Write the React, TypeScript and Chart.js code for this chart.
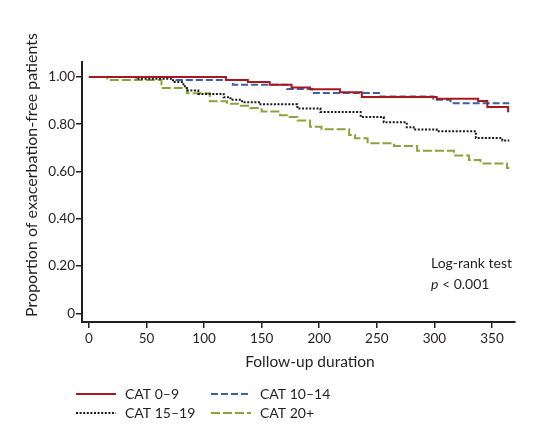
import React, { useEffect, useRef } from "react";
import { Chart, registerables } from "chart.js";

Chart.register(...registerables);

// ---- Data ----
const cat09Days = [0, 119, 138, 157, 176, 192, 218, 237, 302, 338, 346, 364, 365];
const cat09Surv = [1.0, 0.987, 0.978, 0.967, 0.955, 0.948, 0.935, 0.915, 0.908, 0.898, 0.873, 0.855, 0.855];

const cat1014Days = [0, 76, 125, 172, 194, 253, 299, 314, 365];
const cat1014Surv = [1.0, 0.987, 0.967, 0.949, 0.932, 0.917, 0.903, 0.889, 0.889];

const cat1519Days = [0, 41, 73, 82, 85, 95, 117, 123, 133, 149, 181, 201, 236, 256, 276, 282, 302, 336, 359, 365];
const cat1519Surv = [1.0, 0.992, 0.978, 0.96, 0.942, 0.928, 0.914, 0.903, 0.893, 0.884, 0.866, 0.851, 0.83, 0.808, 0.787, 0.777, 0.77, 0.741, 0.731, 0.731];

const cat20Days = [0, 16, 63, 85, 105, 120, 131, 140, 150, 166, 172, 181, 192, 202, 226, 231, 242, 265, 285, 317, 330, 340, 363, 365];
const cat20Surv = [1.0, 0.987, 0.953, 0.931, 0.897, 0.886, 0.878, 0.868, 0.854, 0.838, 0.83, 0.815, 0.789, 0.779, 0.754, 0.74, 0.719, 0.708, 0.687, 0.667, 0.648, 0.634, 0.615, 0.615];

const seriesLabels = ["CAT 0\u20139", "CAT 10\u201314", "CAT 15\u201319", "CAT 20+"];

const xTickValues = [0, 50, 100, 150, 200, 250, 300, 350];
const xTickLabels = ["0", "50", "100", "150", "200", "250", "300", "350"];
const yTickValues = [0, 0.2, 0.4, 0.6, 0.8, 1.0];
const yTickLabels = ["0", "0.20", "0.40", "0.60", "0.80", "1.00"];

const xTitle = "Follow-up duration";
const yTitle = "Proportion of exacerbation-free patients";
const noteLine1 = "Log-rank test";
const noteP = "p";
const noteRest = " < 0.001";

// ---- Styles ----
const FONT = "Lato, 'Open Sans', sans-serif";
const TEXT = "#231f20";
const COLORS = ["#a8181f", "#3d5fa3", "#1a1a1a", "#8aa33c"];
const DASHES: number[][] = [[], [7, 3], [2, 1.6], [9, 3]];

const toPoints = (days: number[], surv: number[]) =>
  days.map((d, i) => ({ x: d, y: surv[i] }));

const overlayPlugin = {
  id: "overlay",
  afterDraw(chart: any) {
    const ctx = chart.ctx as CanvasRenderingContext2D;
    ctx.save();
    ctx.fillStyle = TEXT;

    // y title
    ctx.save();
    ctx.translate(32, 175);
    ctx.rotate(-Math.PI / 2);
    ctx.font = `16px ${FONT}`;
    ctx.textAlign = "center";
    ctx.textBaseline = "middle";
    ctx.fillText(yTitle, 0, 0);
    ctx.restore();

    // x title
    ctx.font = `15.5px ${FONT}`;
    ctx.textAlign = "center";
    ctx.textBaseline = "middle";
    ctx.fillText(xTitle, 310, 362);

    // annotation
    ctx.font = `14px ${FONT}`;
    ctx.textAlign = "left";
    ctx.fillText(noteLine1, 431, 263);
    ctx.font = `italic 14px ${FONT}`;
    ctx.fillText(noteP, 431, 284);
    const pw = ctx.measureText(noteP).width;
    ctx.font = `14px ${FONT}`;
    ctx.fillText(noteRest, 431 + pw, 284);

    // legend
    const pos = [
      { lx: 76, ly: 394 },
      { lx: 211, ly: 394 },
      { lx: 76, ly: 413 },
      { lx: 211, ly: 413 },
    ];
    chart.data.datasets.forEach((ds: any, i: number) => {
      const p = pos[i];
      ctx.save();
      ctx.strokeStyle = ds.borderColor;
      ctx.lineWidth = 2;
      ctx.setLineDash(ds.borderDash || []);
      ctx.beginPath();
      ctx.moveTo(p.lx, p.ly);
      ctx.lineTo(p.lx + 40, p.ly);
      ctx.stroke();
      ctx.restore();
      ctx.font = `14px ${FONT}`;
      ctx.textAlign = "left";
      ctx.textBaseline = "middle";
      ctx.fillStyle = TEXT;
      ctx.fillText(ds.label, p.lx + 49, p.ly);
    });
    ctx.restore();
  },
};

export default function App() {
  const canvasRef = useRef<HTMLCanvasElement | null>(null);

  useEffect(() => {
    if (!canvasRef.current) return;
    const series = [
      toPoints(cat09Days, cat09Surv),
      toPoints(cat1014Days, cat1014Surv),
      toPoints(cat1519Days, cat1519Surv),
      toPoints(cat20Days, cat20Surv),
    ];
    const chart = new Chart(canvasRef.current, {
      type: "line",
      data: {
        datasets: series.map((data, i) => ({
          label: seriesLabels[i],
          data,
          borderColor: COLORS[i],
          backgroundColor: COLORS[i],
          borderWidth: 2,
          borderDash: DASHES[i],
          stepped: "before" as const,
          pointRadius: 0,
          fill: false,
          tension: 0,
        })),
      },
      options: {
        responsive: false,
        animation: false,
        events: [],
        layout: { padding: { top: 62, right: 21, bottom: 72, left: 0 } },
        plugins: {
          legend: { display: false },
          tooltip: { enabled: false },
        },
        scales: {
          x: {
            type: "linear",
            min: -6,
            max: 370,
            afterBuildTicks: (s: any) => {
              s.ticks = xTickValues.map((v) => ({ value: v }));
            },
            afterFit: (s: any) => {
              s.height = 47;
            },
            ticks: {
              autoSkip: false,
              maxRotation: 0,
              padding: 3,
              color: TEXT,
              font: { family: FONT, size: 13.5 },
              callback: (v: any) => xTickLabels[xTickValues.indexOf(Number(v))] ?? "",
            },
            grid: {
              drawOnChartArea: false,
              drawTicks: true,
              tickLength: 6,
              color: "#231f20",
              lineWidth: 1.5,
            },
            border: { color: "#231f20", width: 2 },
          },
          y: {
            type: "linear",
            min: -0.037,
            max: 1.063,
            afterBuildTicks: (s: any) => {
              s.ticks = yTickValues.map((v) => ({ value: v }));
            },
            afterFit: (s: any) => {
              s.width = 82;
            },
            ticks: {
              padding: 1,
              color: TEXT,
              font: { family: FONT, size: 13.5 },
              callback: (v: any) => {
                const idx = yTickValues.findIndex((t) => Math.abs(t - Number(v)) < 1e-6);
                return idx >= 0 ? yTickLabels[idx] : "";
              },
            },
            grid: {
              drawOnChartArea: false,
              drawTicks: true,
              tickLength: 6,
              color: "#231f20",
              lineWidth: 1.5,
            },
            border: { color: "#231f20", width: 2 },
          },
        },
      },
      plugins: [overlayPlugin],
    });
    return () => chart.destroy();
  }, []);

  return (
    <div style={{ position: "fixed", left: 0, top: 0, width: 536, height: 441, background: "#fff" }}>
      <canvas ref={canvasRef} width={536} height={441} style={{ display: "block" }} />
    </div>
  );
}
